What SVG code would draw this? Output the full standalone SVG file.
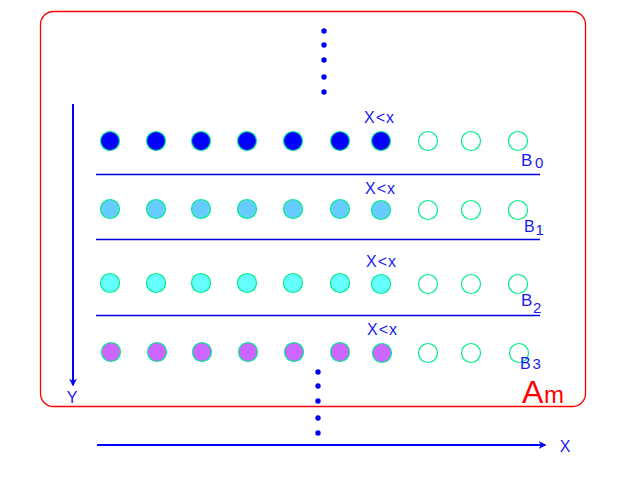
<svg xmlns="http://www.w3.org/2000/svg" width="640" height="480" viewBox="0 0 640 480">
<style>
.c{stroke:#00ee88;stroke-width:1.2}
.e{fill:#fff}
.r0{fill:#0000ff}
.r1{fill:#66ccff}
.r2{fill:#66ffff}
.r3{fill:#cc66ff}
.sep{stroke:#0000dd;stroke-width:1.3;fill:none}
.ax{stroke:#0000ff;stroke-width:2;fill:none}
.t{font-family:"Liberation Sans",Arial,sans-serif;fill:#1a1aee}
.xl{font-size:16px;letter-spacing:1px}
.dot{fill:#0000ee}
</style>
<defs>
<marker id="ah" viewBox="0 0 10 10" refX="8" refY="5" markerWidth="4" markerHeight="5" orient="auto" markerUnits="strokeWidth">
<path d="M0,0 L10,5 L0,10 L3,5 Z" fill="#0000ff"/>
</marker>
</defs>
<rect x="40.5" y="11.5" width="545" height="395" rx="13" ry="13" fill="none" stroke="#ff0000" stroke-width="1.3"/>
<g id="connectors">
<line class="ax" x1="73" y1="104" x2="73" y2="385" marker-end="url(#ah)"/>
<line class="ax" x1="97" y1="445" x2="545" y2="445" marker-end="url(#ah)"/>
<line class="sep" x1="96" y1="174.5" x2="540" y2="174.5"/>
<line class="sep" x1="96" y1="239.5" x2="540" y2="239.5"/>
<line class="sep" x1="96" y1="315.5" x2="540" y2="315.5"/>
</g>
<g id="dots-top">
<circle class="dot" cx="324" cy="31" r="2.7"/>
<circle class="dot" cx="324" cy="45" r="2.7"/>
<circle class="dot" cx="324" cy="60" r="2.7"/>
<circle class="dot" cx="324" cy="77" r="2.7"/>
<circle class="dot" cx="324" cy="92" r="2.7"/>
</g>
<g id="dots-bottom">
<circle class="dot" cx="318" cy="372" r="2.7"/>
<circle class="dot" cx="318" cy="386" r="2.7"/>
<circle class="dot" cx="318" cy="401" r="2.7"/>
<circle class="dot" cx="318" cy="418" r="2.7"/>
<circle class="dot" cx="318" cy="433" r="2.7"/>
</g>
<g id="row0">
<circle class="c r0" cx="110" cy="141" r="9.5"/>
<circle class="c r0" cx="156" cy="141" r="9.5"/>
<circle class="c r0" cx="201" cy="141" r="9.5"/>
<circle class="c r0" cx="247" cy="141" r="9.5"/>
<circle class="c r0" cx="293" cy="141" r="9.5"/>
<circle class="c r0" cx="340" cy="141" r="9.5"/>
<circle class="c r0" cx="381" cy="141" r="9.5"/>
<circle class="c e" cx="428" cy="141" r="9.5"/>
<circle class="c e" cx="471" cy="141" r="9.5"/>
<circle class="c e" cx="518" cy="141" r="9.5"/>
<text class="t xl" x="364" y="123">X&lt;x</text>
<text class="t" x="521" y="166" font-size="17">B</text>
<text class="t" x="535" y="168" font-size="15">0</text>
</g>
<g id="row1">
<circle class="c r1" cx="110" cy="209" r="9.5"/>
<circle class="c r1" cx="156" cy="209" r="9.5"/>
<circle class="c r1" cx="201" cy="209" r="9.5"/>
<circle class="c r1" cx="247" cy="209" r="9.5"/>
<circle class="c r1" cx="293" cy="209" r="9.5"/>
<circle class="c r1" cx="340" cy="209" r="9.5"/>
<circle class="c r1" cx="381" cy="210" r="9.5"/>
<circle class="c e" cx="428" cy="210" r="9.5"/>
<circle class="c e" cx="471" cy="210" r="9.5"/>
<circle class="c e" cx="518" cy="210" r="9.5"/>
<text class="t xl" x="365" y="194">X&lt;x</text>
<text class="t" x="524" y="232" font-size="16">B</text>
<text class="t" x="535.5" y="235" font-size="15">1</text>
</g>
<g id="row2">
<circle class="c r2" cx="110" cy="283" r="9.5"/>
<circle class="c r2" cx="156" cy="283" r="9.5"/>
<circle class="c r2" cx="201" cy="283" r="9.5"/>
<circle class="c r2" cx="247" cy="283" r="9.5"/>
<circle class="c r2" cx="293" cy="283" r="9.5"/>
<circle class="c r2" cx="340" cy="283" r="9.5"/>
<circle class="c r2" cx="381" cy="284" r="9.5"/>
<circle class="c e" cx="428" cy="284" r="9.5"/>
<circle class="c e" cx="471" cy="284" r="9.5"/>
<circle class="c e" cx="518" cy="284" r="9.5"/>
<text class="t xl" x="366" y="267">X&lt;x</text>
<text class="t" x="521" y="306" font-size="17">B</text>
<text class="t" x="533" y="313" font-size="15">2</text>
</g>
<g id="row3">
<circle class="c r3" cx="111" cy="352" r="9.5"/>
<circle class="c r3" cx="157" cy="352" r="9.5"/>
<circle class="c r3" cx="202" cy="352" r="9.5"/>
<circle class="c r3" cx="248" cy="352" r="9.5"/>
<circle class="c r3" cx="294" cy="352" r="9.5"/>
<circle class="c r3" cx="340" cy="352" r="9.5"/>
<circle class="c r3" cx="382" cy="353" r="9.5"/>
<circle class="c e" cx="428" cy="353" r="9.5"/>
<circle class="c e" cx="471" cy="353" r="9.5"/>
<circle class="c e" cx="519" cy="353" r="9.5"/>
<text class="t xl" x="367" y="335">X&lt;x</text>
<text class="t" x="520" y="369" font-size="16">B</text>
<text class="t" x="532.5" y="369" font-size="15">3</text>
</g>
<g id="labels">
<text class="t" x="72" y="403" font-size="16" text-anchor="middle">Y</text>
<text class="t" x="565" y="452" font-size="16" text-anchor="middle">X</text>
<text x="522" y="403" font-size="32" fill="#ff0000" font-family="Liberation Sans,Arial,sans-serif">A</text>
<text x="544" y="403" font-size="24" fill="#ff0000" font-family="Liberation Sans,Arial,sans-serif">m</text>
</g>
</svg>
